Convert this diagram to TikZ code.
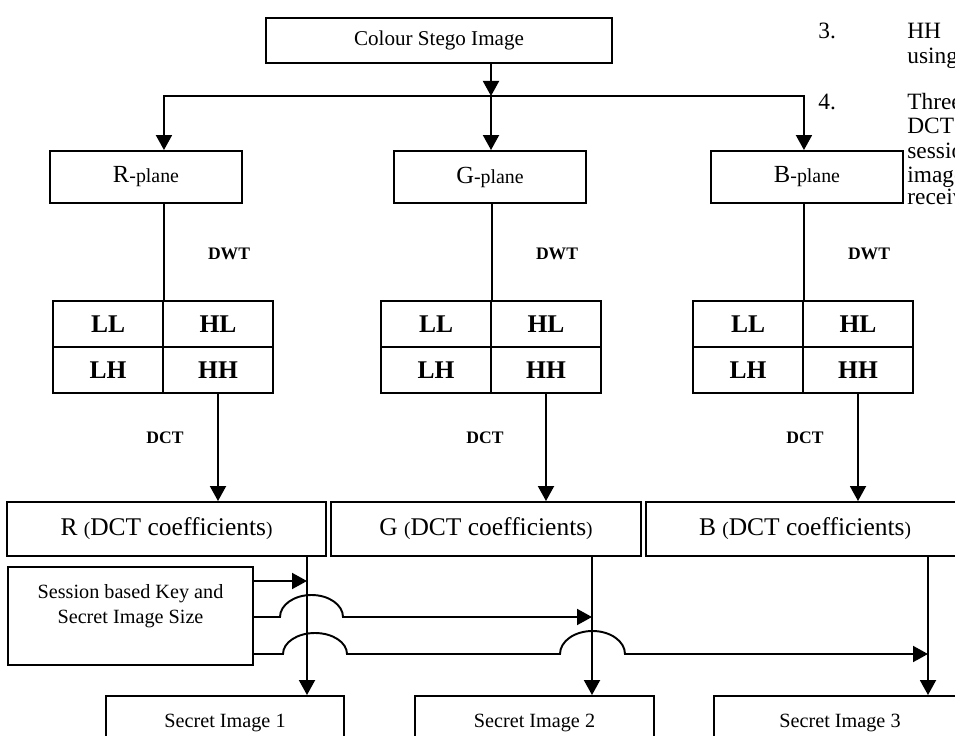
\documentclass[tikz,border=0pt]{standalone}
\usepackage{fontspec}
\setmainfont{Liberation Serif}
\usetikzlibrary{arrows.meta}
\newcommand\planetext[1]{{\fontsize{14}{16}\selectfont #1}\fontsize{11.3}{13}\selectfont -plane}
\newcommand\coeftext[1]{#1 {\fontsize{11}{13}\selectfont(}DCT coefficients{\fontsize{11}{13}\selectfont)}}
\tikzset{box/.style={draw, line width=1.1pt, inner sep=0pt},
         planebox/.style={box, minimum width=38.4mm, minimum height=10.4mm},
         cell/.style={box, minimum width=22mm, minimum height=9.2mm, font=\fontsize{14.5}{16}\selectfont\bfseries},
         coefbox/.style={box, minimum height=10.8mm, font=\fontsize{14.5}{16}\selectfont},
         secbox/.style={box, minimum height=10.8mm, font=\fontsize{11.5}{13}\selectfont},
         lbl/.style={font=\fontsize{10}{12}\selectfont\bfseries},
         flow/.style={line width=1.1pt, -{Triangle[length=3mm,width=3.2mm]}},
         thinline/.style={line width=0.8pt},
         side/.style={anchor=base west, inner sep=0pt, font=\fontsize{13.3}{15}\selectfont}}

\begin{document}
\begin{tikzpicture}[x=0.2mm, y=-0.2mm]
   \useasboundingbox (0,0) rectangle (955,736);
   \clip (0,0) rectangle (955,736);
   % top: stego image split in three planes
   \node[box, minimum width=69.2mm, minimum height=9mm, font=\fontsize{12}{14}\selectfont] (stego) at (439,40.5) {Colour Stego Image};
   \coordinate (fork) at (491,96);
   \draw[flow] (stego.south -| fork) -- (fork);
   \node[planebox] (rplane) at (146,177) {\planetext{R}};
   \node[planebox] (gplane) at (490,177) {\planetext{G}};
   \node[planebox] (bplane) at (807,177) {\planetext{B}};
   \node[coefbox, minimum width=63.8mm] (rcoef) at (166.5,529) {\coeftext{R}};
   \node[coefbox, minimum width=62mm]   (gcoef) at (486,529)   {\coeftext{G}};
   \node[coefbox, minimum width=63.6mm] (bcoef) at (805,529)   {\coeftext{B}};
   % DWT sub-bands, one grid per plane
   \foreach \n/\gx/\dx in {r/53/165, g/381/485, b/693/805} {
     \node[cell] (\n ll) at (\gx+55,324) {LL};
     \node[cell] (\n hl) at (\gx+165,324) {HL};
     \node[cell] (\n lh) at (\gx+55,370) {LH};
     \node[cell] (\n hh) at (\gx+165,370) {HH};
     \draw[thinline] (\n plane.south -| \n ll.north east) -- (\n ll.north east);
     \node[lbl] (\n dwt) at (\gx+176,254) {DWT};
     \node[lbl] (\n dct) at (\dx,438) {DCT};
     \draw[flow] (\n hh.south) -- (\n hh.south |- \n coef.north);
   }
   \draw[flow] (fork) -| (rplane.north -| rll.north east);
   \draw[flow] (fork) -- (gplane.north -| fork);
   \draw[flow] (fork) -| (bplane.north -| bll.north east);
   % extraction
   \node[secbox, minimum width=47.6mm] (sec1) at (225,723)   {Secret Image 1};
   \node[secbox, minimum width=47.8mm] (sec2) at (534.5,723) {Secret Image 2};
   \node[secbox, minimum width=50.4mm] (sec3) at (840,723)   {Secret Image 3};
   \path (307,0) coordinate (rx) (592,0) coordinate (gx) (928,0) coordinate (bx);
   \draw[flow] (rcoef.south -| rx) -- (sec1.north -| rx);
   \draw[flow] (gcoef.south -| gx) -- (sec2.north -| gx);
   \draw[flow] (bcoef.south -| bx) -- (sec3.north -| bx);
   \node[box, minimum width=49mm, minimum height=19.6mm] (session) at (130.5,616) {};
   \node[align=center, font=\fontsize{11.5}{14.2}\selectfont] (sessiontxt) at (130.5,606) {Session based Key and\\Secret Image Size};
   \draw[flow] (session.east |- 0,581) -- (rx |- 0,581);
   \draw[flow] (session.east |- 0,617) -- (280,617)
        arc[start angle=180, end angle=0, x radius=6.3mm, y radius=4.4mm] -- (gx |- 0,617);
   \draw[flow] (session.east |- 0,654) -- (283,654)
        arc[start angle=180, end angle=0, x radius=6.4mm, y radius=4.2mm] -- (560,654)
        arc[start angle=180, end angle=0, x radius=6.5mm, y radius=4.6mm] -- (bx |- 0,654);
   % text of the page beside the figure
   \node[side] (n3)    at (818,39)  {3.};
   \node[side] (hh3)   at (907,39)  {HH};
   \node[side] (using) at (907,64)  {using};
   \node[side] (n4)    at (818,110) {4.};
   \node[side] (three) at (907,110) {Three};
   \node[side] (dct4)  at (907,134) {DCT};
   \node[side] (sess4) at (907,159) {session};
   \node[side] (img4)  at (907,183) {image};
   \node[side] (recv4) at (907,205) {receiver};
\end{tikzpicture}
\end{document}
